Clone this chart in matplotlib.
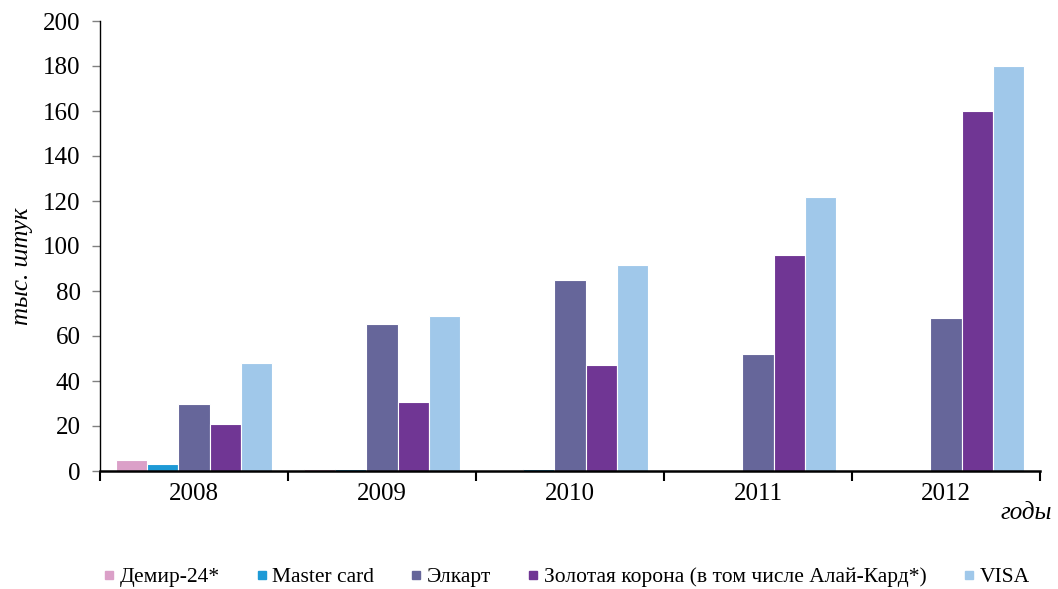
import matplotlib
matplotlib.use("Agg")
import matplotlib.pyplot as plt
from matplotlib.lines import Line2D
import numpy as np

years = ["2008", "2009", "2010", "2011", "2012"]
series_names = ["Демир-24*", "Master card", "Элкарт",
                "Золотая корона (в том числе Алай-Кард*)", "VISA"]
demir = [5, 1, 0, 0, 0]
mastercard = [3, 0.7, 0.7, 0, 0]
elcart = [30, 65.5, 85, 52, 68]
zolotaya = [21, 30.5, 47, 96, 160]
visa = [48, 69, 91.5, 122, 180]
colors = ["#DBA0C8", "#1E9AD6", "#66669A", "#703694", "#A0C8EA"]
yticks = [0, 20, 40, 60, 80, 100, 120, 140, 160, 180, 200]

series = [demir, mastercard, elcart, zolotaya, visa]

plt.rcParams['font.family'] = ['Liberation Serif', 'DejaVu Serif']

fig = plt.figure(figsize=(10.58, 5.89), dpi=100)
ax = fig.add_axes([100/1058, 1-471/589, 940/1058, 450/589])

x = np.arange(len(years))
w = 0.167
for i, (vals, c) in enumerate(zip(series, colors)):
    ax.bar(x + (i - 2) * w, vals, width=w, color=c, edgecolor="white",
           linewidth=0.8, label=series_names[i], zorder=2)

ax.set_xlim(-0.5, len(years) - 0.5)
ax.set_ylim(0, 200)
ax.set_yticks(yticks)
ax.set_yticklabels([str(t) for t in yticks], fontsize=18)
ax.set_xticks(x)
ax.set_xticklabels(years, fontsize=18)
ax.tick_params(axis='x', length=0, pad=9)
ax.set_xticks(np.arange(-0.5, len(years)), minor=True)
ax.tick_params(axis='x', which='minor', length=7, width=1.5, color='black')
ax.tick_params(axis='y', length=6, width=1, color='#808080', pad=8)

for s in ["top", "right"]:
    ax.spines[s].set_visible(False)
ax.spines["left"].set_linewidth(1.0)
ax.spines["bottom"].set_linewidth(1.8)

fig.text(22/1058, 1-266/589, "тыс. штук", fontsize=18, style='italic',
         rotation=90, ha='center', va='center')
fig.text(1052/1058, 1-513/589, "годы", fontsize=18, style='italic',
         ha='right', va='center')

handles = [Line2D([0], [0], marker='s', linestyle='none', markersize=6,
                  markerfacecolor=c, markeredgecolor=c) for c in colors]
fig.legend(handles, series_names, loc='center', ncol=5,
           bbox_to_anchor=(0.536, 1-577/589), frameon=False, fontsize=15.5,
           handlelength=0.4, handletextpad=0.3, columnspacing=1.75)

fig.savefig("out.png", dpi=100)
